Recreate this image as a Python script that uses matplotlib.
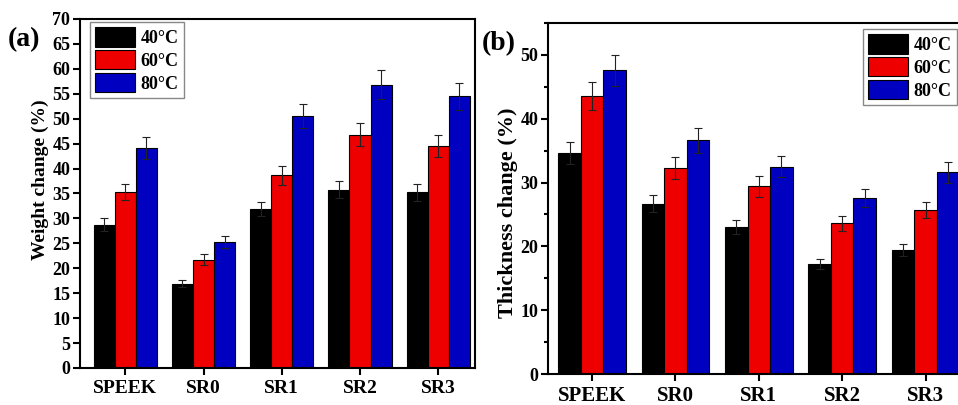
import numpy as np
import matplotlib
matplotlib.use("Agg")
import matplotlib.pyplot as plt
from matplotlib.ticker import MultipleLocator

plt.rcParams['font.family'] = ['Liberation Serif', 'DejaVu Serif']
plt.rcParams['font.weight'] = 'bold'

samples = ["SPEEK", "SR0", "SR1", "SR2", "SR3"]
temps = ["40°C", "60°C", "80°C"]
colors = ["#000000", "#ee0000", "#0000c0"]

# weight change (%) and errors
weight_40 = [28.7, 16.9, 31.9, 35.8, 35.2]
weight_60 = [35.3, 21.7, 38.7, 46.8, 44.5]
weight_80 = [44.1, 25.3, 50.5, 56.8, 54.5]
weight_err_40 = [1.3, 0.7, 1.4, 1.7, 1.7]
weight_err_60 = [1.7, 1.1, 1.9, 2.3, 2.2]
weight_err_80 = [2.2, 1.2, 2.4, 2.9, 2.7]

# thickness change (%) and errors
thick_40 = [34.6, 26.7, 23.0, 17.3, 19.4]
thick_60 = [43.6, 32.3, 29.4, 23.6, 25.7]
thick_80 = [47.6, 36.6, 32.5, 27.6, 31.6]
thick_err_40 = [1.7, 1.3, 1.1, 0.8, 0.9]
thick_err_60 = [2.2, 1.7, 1.6, 1.2, 1.3]
thick_err_80 = [2.4, 1.9, 1.6, 1.4, 1.6]


def draw_panel(fig, ax, series, errs, ylabel, ylabel_size, ylabel_y, xtick_size, ylim, major, minor,
               xlim, legend_anchor):
    x = np.arange(len(samples))
    w = 0.27
    for i, (vals, err) in enumerate(zip(series, errs)):
        ax.bar(x + (i - 1) * w, vals, w, yerr=err, color=colors[i], edgecolor="black",
               linewidth=0.8, label=temps[i],
               error_kw=dict(ecolor="#222222", elinewidth=0.8, capsize=3, capthick=0.8))
    ax.set_xticks(x)
    ax.set_xticklabels(samples, fontsize=xtick_size, fontweight="bold")
    ax.set_xlim(*xlim)
    ax.set_ylim(*ylim)
    ax.yaxis.set_major_locator(MultipleLocator(major))
    if minor:
        ax.yaxis.set_minor_locator(MultipleLocator(minor))
    ax.tick_params(axis="y", labelsize=13, direction="out", width=1.5, length=5, pad=2)
    ax.tick_params(axis="y", which="minor", direction="out", width=1.5, length=3)
    ax.tick_params(axis="x", direction="out", width=1.5, length=5)
    for lab in ax.get_yticklabels():
        lab.set_fontweight("bold")
    for s in ax.spines.values():
        s.set_linewidth(1.5)
    ax.set_ylabel(ylabel, fontsize=ylabel_size, fontweight="bold", labelpad=2)
    ax.yaxis.label.set_y(ylabel_y)
    leg = ax.legend(loc="upper left", bbox_to_anchor=legend_anchor,
                    bbox_transform=fig.transFigure, fontsize=13,
                    handlelength=2.2, handleheight=1.25, handletextpad=0.3,
                    labelspacing=0.18, borderpad=0.3, borderaxespad=0.0,
                    fancybox=False, edgecolor="#888888", framealpha=1)
    for t in leg.get_texts():
        t.set_fontweight("bold")
    return ax


fig = plt.figure(figsize=(9.58, 4.05), dpi=100)
ax1 = fig.add_axes([0.0835, 0.0914, 0.4123, 0.8617])
ax2 = fig.add_axes([0.572, 0.0765, 0.435, 0.8667])

draw_panel(fig, ax1, [weight_40, weight_60, weight_80],
           [weight_err_40, weight_err_60, weight_err_80],
           "Weight change (%)", 14, 0.54, 14, (0, 70), 5, None, (-0.58, 4.47),
           (90 / 958, 1 - 22 / 405))
draw_panel(fig, ax2, [thick_40, thick_60, thick_80],
           [thick_err_40, thick_err_60, thick_err_80],
           "Thickness change (%)", 16, 0.46, 15, (0, 55), 10, 5, (-0.53, 4.47),
           (863 / 958, 1 - 29 / 405))

fig.text(0.008, 0.885, "(a)", fontsize=20, fontweight="bold")
fig.text(0.503, 0.875, "(b)", fontsize=20, fontweight="bold")

fig.savefig("out.png", dpi=100)
